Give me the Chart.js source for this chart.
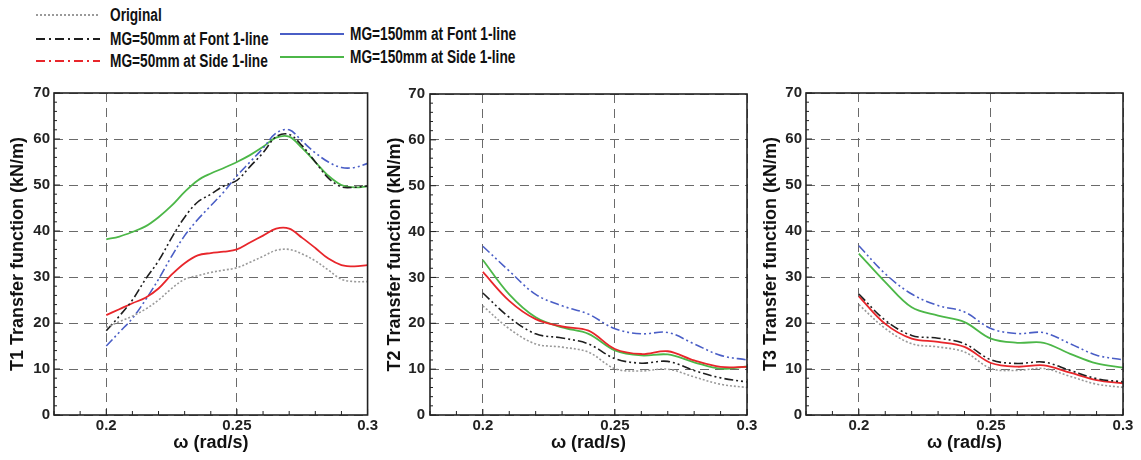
<!DOCTYPE html>
<html>
<head>
<meta charset="utf-8">
<script src="https://cdn.jsdelivr.net/npm/chart.js@4/dist/chart.umd.min.js"></script>
<style>
  body { margin: 0; width: 1141px; height: 460px; background: #fff; position: relative; overflow: hidden;
         font-family: "Liberation Sans", Arial, sans-serif; }
  .panel { position: absolute; top: 80px; }
  .leg { position: absolute; height: 20px; display: flex; align-items: center; }
  .leg canvas { display: block; }
  .leg span { position: absolute; white-space: nowrap; font-weight: bold; font-size: 18px; color: #111;
              transform: scaleX(0.76); transform-origin: left center; }
</style>
</head>
<body>
<div id="legend"></div>
<canvas id="t1" class="panel" width="380" height="380" style="left:0px"></canvas>
<canvas id="t2" class="panel" width="380" height="380" style="left:380px"></canvas>
<canvas id="t3" class="panel" width="381" height="380" style="left:760px"></canvas>
<script>
// frequency (rad/s)
const omegaT1 = [0.2, 0.205, 0.21, 0.215, 0.22, 0.225, 0.23, 0.235, 0.24, 0.245, 0.25,
                 0.255, 0.26, 0.265, 0.27, 0.275, 0.28, 0.285, 0.29, 0.295, 0.3];
const omegaT23 = [0.2, 0.21, 0.22, 0.23, 0.24, 0.25, 0.26, 0.27, 0.28, 0.29, 0.3];

// T1 transfer function (kN/m)
const t1Original  = [19, 20.3, 21.5, 23, 25, 27.5, 29.5, 30.3, 31, 31.5, 32, 33.2, 34.5, 35.8, 36, 35, 33.5, 31.5, 29.5, 29, 29];
const t1Mg50Font  = [18.3, 21.5, 25, 29.5, 33.5, 38.5, 43, 46.3, 48, 49.8, 51, 54, 57, 60.5, 61, 58.5, 55, 51.5, 49.6, 49.5, 49.8];
const t1Mg50Side  = [21.7, 23, 24.3, 25.5, 27.5, 30.5, 33, 34.7, 35.2, 35.5, 36, 37.5, 39, 40.5, 40.5, 38.5, 36.3, 34, 32.6, 32.3, 32.6];
const t1Mg150Font = [15, 18, 21, 25, 29.5, 34.5, 39, 42.5, 45.5, 48.5, 52, 55, 58, 61.3, 62, 59.5, 57, 55, 53.8, 53.8, 54.7];
const t1Mg150Side = [38.2, 38.8, 39.8, 41, 43, 45.5, 48.5, 51, 52.5, 53.7, 55, 56.5, 58.3, 60.3, 60.5, 58, 55, 52, 50, 49.5, 49.7];

// T2 transfer function (kN/m)
const t2Original  = [23.8, 18.8, 15.5, 14.8, 13.7, 10.1, 9.6, 10, 8.3, 6.7, 6];
const t2Mg50Font  = [26.6, 21.3, 17.7, 16.8, 15.5, 12.3, 11.3, 11.7, 9.7, 8.1, 7.2];
const t2Mg50Side  = [31.2, 24.9, 20.9, 19.3, 18.4, 14.4, 13.3, 13.9, 11.9, 10.5, 10.5];
const t2Mg150Font = [36.8, 31.4, 26.3, 23.8, 22, 18.8, 17.7, 18, 15.5, 13, 12];
const t2Mg150Side = [33.8, 26.3, 21.3, 19.1, 17.7, 14.1, 13, 13.2, 11.5, 10.1, 10.6];

// T3 transfer function (kN/m)
const t3Original  = [24, 18.8, 15.5, 14.8, 13.7, 10.1, 9.7, 10.1, 8.4, 6.7, 6];
const t3Mg50Font  = [26.3, 20.6, 17.3, 16.7, 15.5, 12, 11.2, 11.5, 9.7, 7.9, 7.2];
const t3Mg50Side  = [25.8, 19.8, 16.6, 15.9, 14.8, 11.3, 10.5, 10.8, 9.2, 7.6, 6.9];
const t3Mg150Font = [36.8, 30.7, 26.3, 23.8, 22.4, 18.8, 17.7, 17.9, 15.5, 13, 12];
const t3Mg150Side = [35.1, 28.9, 23.4, 21.6, 20.2, 16.6, 15.7, 15.7, 13.3, 11.2, 10.3];

const seriesNames = ['Original', 'MG=50mm at Font 1-line', 'MG=50mm at Side 1-line',
                     'MG=150mm at Font 1-line', 'MG=150mm at Side 1-line'];
const xTicks = [0.2, 0.25, 0.3];

// line looks in the plots
const plotStyles = [
  { color: '#9a9a9a', dash: [2, 2], width: 1.6 },
  { color: '#1e1e1e', dash: [9, 3, 2, 3, 2, 3], width: 1.6 },
  { color: '#e8262b', dash: [], width: 1.8 },
  { color: '#4a5ec6', dash: [9, 3, 2, 3, 2, 3], width: 1.6 },
  { color: '#4cb748', dash: [], width: 1.8 }
];
// line looks in the legend box
const legendStyles = [
  { color: '#9a9a9a', dash: [2, 2], x: 36, y: 15, textX: 110 },
  { color: '#1e1e1e', dash: [9, 4, 2, 4], x: 36, y: 39, textX: 110 },
  { color: '#e8262b', dash: [9, 4, 2, 4], x: 36, y: 61, textX: 110 },
  { color: '#4a5ec6', dash: [], x: 280, y: 34, textX: 350 },
  { color: '#4cb748', dash: [], x: 280, y: 57, textX: 350 }
];

const legend = document.getElementById('legend');
seriesNames.forEach((name, i) => {
  const st = legendStyles[i];
  const item = document.createElement('div');
  item.className = 'leg';
  item.style.left = st.x + 'px';
  item.style.top = (st.y - 10) + 'px';
  const c = document.createElement('canvas');
  c.width = 64; c.height = 6;
  const g = c.getContext('2d');
  g.strokeStyle = st.color; g.lineWidth = 2; g.setLineDash(st.dash);
  g.beginPath(); g.moveTo(0, 3); g.lineTo(64, 3); g.stroke();
  item.appendChild(c);
  const s = document.createElement('span');
  s.textContent = name;
  s.style.left = (st.textX - st.x) + 'px';
  item.appendChild(s);
  legend.appendChild(item);
});

// frame, inner major ticks and minor ticks
const framePlugin = {
  id: 'frame',
  afterDraw(chart) {
    const { ctx, chartArea: a, scales } = chart;
    ctx.save();
    ctx.strokeStyle = '#222';
    ctx.lineWidth = 1;
    ctx.beginPath();
    for (let v = 0; v <= 70; v += 2) {
      const y = scales.y.getPixelForValue(v);
      const len = v % 10 === 0 ? 6 : 3;
      ctx.moveTo(a.left, y); ctx.lineTo(a.left + len, y);
    }
    for (let k = 18; k <= 30; k++) {
      const x = scales.x.getPixelForValue(k / 100);
      const len = k % 5 === 0 ? 6 : 4;
      ctx.moveTo(x, a.bottom); ctx.lineTo(x, a.bottom - len);
    }
    ctx.stroke();
    ctx.lineWidth = 1.6;
    ctx.strokeRect(a.left, a.top, a.right - a.left, a.bottom - a.top);
    ctx.restore();
  }
};

function makePanel(id, title, omega, series, yWidth, yTitlePad, yTickPad, rightPad) {
  new Chart(document.getElementById(id), {
    type: 'line',
    data: {
      datasets: series.map((vals, i) => ({
        label: seriesNames[i],
        data: vals.map((v, j) => ({ x: omega[j], y: v })),
        borderColor: plotStyles[i].color,
        borderDash: plotStyles[i].dash,
        borderWidth: plotStyles[i].width,
        pointRadius: 0,
        fill: false,
        tension: 0.35
      }))
    },
    options: {
      responsive: false,
      animation: false,
      devicePixelRatio: 1,
      layout: { padding: { top: 12, right: rightPad, left: 0, bottom: 0 } },
      plugins: { legend: { display: false }, tooltip: { enabled: false } },
      scales: {
        x: {
          type: 'linear', min: 0.18, max: 0.3,
          afterBuildTicks: s => { s.ticks = xTicks.map(v => ({ value: v })); },
          afterFit: s => { s.height = 45; },
          grid: { color: '#6a6a6a', lineWidth: 1, drawTicks: false },
          border: { display: false, dash: [9, 6] },
          ticks: { padding: 2, color: '#222', font: { size: 15, weight: 'bold', family: 'Liberation Sans' },
                   callback: v => String(v) },
          title: { display: true, text: 'ω (rad/s)', color: '#111', padding: { top: 0, bottom: 6 },
                   font: { size: 18, weight: 'bold', family: 'Liberation Sans' } }
        },
        y: {
          min: 0, max: 70,
          ticks: { stepSize: 10, padding: yTickPad, color: '#222',
                   font: { size: 15, weight: 'bold', family: 'Liberation Sans' } },
          afterFit: s => { s.width = yWidth; },
          grid: { color: '#6a6a6a', lineWidth: 1, drawTicks: false },
          border: { display: false, dash: [9, 6] },
          title: { display: true, text: title, color: '#111', padding: { top: yTitlePad, bottom: 0 },
                   font: { size: 18, weight: 'bold', family: 'Liberation Sans' } }
        }
      }
    },
    plugins: [framePlugin]
  });
}

makePanel('t1', 'T1 Transfer function (kN/m)', omegaT1,
  [t1Original, t1Mg50Font, t1Mg50Side, t1Mg150Font, t1Mg150Side], 54, 7, 4, 11);
makePanel('t2', 'T2 Transfer function (kN/m)', omegaT23,
  [t2Original, t2Mg50Font, t2Mg50Side, t2Mg150Font, t2Mg150Side], 50, 4, 5, 13);
makePanel('t3', 'T3 Transfer function (kN/m)', omegaT23,
  [t3Original, t3Mg50Font, t3Mg50Side, t3Mg150Font, t3Mg150Side], 46, 0, 4, 18);
</script>
</body>
</html>
